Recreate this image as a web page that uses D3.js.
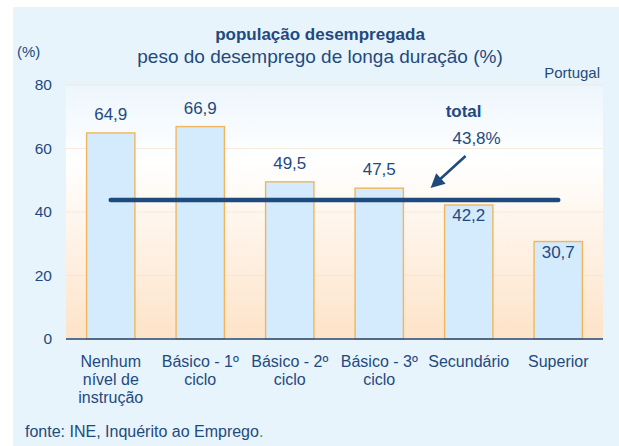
<!DOCTYPE html>
<html>
<head>
<meta charset="utf-8">
<script src="https://cdn.jsdelivr.net/npm/d3@7"></script>
<style>
  body { margin: 0; background: #fff; }
  svg { display: block; font-family: Arial, "Liberation Sans", sans-serif; }
</style>
</head>
<body>
<svg id="chart"></svg>
<script>
'use strict';

const categories = [
  ['Nenhum', 'nível de', 'instrução'],
  ['Básico - 1º', 'ciclo'],
  ['Básico - 2º', 'ciclo'],
  ['Básico - 3º', 'ciclo'],
  ['Secundário'],
  ['Superior']
];
const values = [64.9, 66.9, 49.5, 47.5, 42.2, 30.7];
const total = 43.8;
const yTicks = [0, 20, 40, 60, 80];

const TEXT = '#1f4a7e';
const fmt = v => String(v.toFixed(1)).replace('.', ',');

const W = 619, H = 446;
const margin = { top: 85, right: 16, bottom: 107, left: 66 };
const width = W - margin.left - margin.right;
const height = H - margin.top - margin.bottom;

const svg = d3.select('#chart').attr('width', W).attr('height', H);

const defs = svg.append('defs');
const grad = defs.append('linearGradient')
  .attr('id', 'plotbg').attr('x1', 0).attr('y1', 0).attr('x2', 0).attr('y2', 1);
grad.append('stop').attr('offset', '0%').attr('stop-color', '#edf6fd');
grad.append('stop').attr('offset', '30%').attr('stop-color', '#ffffff');
grad.append('stop').attr('offset', '100%').attr('stop-color', '#fde3c8');

// outer panel
svg.append('rect')
  .attr('x', 13).attr('y', 7)
  .attr('width', W - 13).attr('height', H - 7)
  .attr('fill', '#e8f4fc');

const x = d3.scaleBand()
  .domain(d3.range(values.length))
  .range([0, width])
  .paddingInner(0.46)
  .paddingOuter(0.23);

const y = d3.scaleLinear().domain([0, 80]).range([height, 0]);

const g = svg.append('g')
  .attr('transform', 'translate(' + margin.left + ',' + margin.top + ')');

g.append('rect')
  .attr('width', width).attr('height', height)
  .attr('fill', 'url(#plotbg)');

// gridlines
g.selectAll('.grid')
  .data(yTicks.filter(d => d > 0))
  .enter().append('line')
  .attr('class', 'grid')
  .attr('x1', 0).attr('x2', width)
  .attr('y1', d => y(d)).attr('y2', d => y(d))
  .attr('stroke', '#f3e2d0')
  .attr('stroke-opacity', 0.7)
  .attr('stroke-width', 1);

// y axis labels
const yAxis = d3.axisLeft(y).tickValues(yTicks).tickSize(0).tickPadding(14);
g.append('g')
  .call(yAxis)
  .call(s => s.select('.domain').remove())
  .selectAll('text')
  .attr('fill', TEXT)
  .style('font-size', '15.5px');

// bars
g.selectAll('.bar')
  .data(values)
  .enter().append('rect')
  .attr('class', 'bar')
  .attr('x', (d, i) => x(i))
  .attr('y', d => y(d))
  .attr('width', x.bandwidth())
  .attr('height', d => height - y(d))
  .attr('fill', '#d3ebfc')
  .attr('stroke', '#f1b65c')
  .attr('stroke-width', 1.4);

// x axis line
g.append('line')
  .attr('x1', 0).attr('x2', width)
  .attr('y1', height).attr('y2', height)
  .attr('stroke', '#1f4a7e')
  .attr('stroke-width', 1.6);

// category labels
const xl = g.selectAll('.xlab')
  .data(categories)
  .enter().append('text')
  .attr('class', 'xlab')
  .attr('text-anchor', 'middle')
  .attr('fill', TEXT)
  .style('font-size', '16px')
  .attr('transform', (d, i) => 'translate(' + (x(i) + x.bandwidth() / 2) + ',' + (height + 28) + ')');
xl.selectAll('tspan')
  .data(d => d)
  .enter().append('tspan')
  .attr('x', 0)
  .attr('y', (d, i) => i * 18)
  .text(d => d);

// value labels
g.selectAll('.vlab')
  .data(values)
  .enter().append('text')
  .attr('class', 'vlab')
  .attr('text-anchor', 'middle')
  .attr('fill', TEXT)
  .style('font-size', '17px')
  .attr('x', (d, i) => x(i) + x.bandwidth() / 2)
  .attr('y', d => d > total ? y(d) - 13 : y(d) + 16)
  .text(fmt);

// total line
g.append('line')
  .attr('x1', x(0) + x.bandwidth() / 2)
  .attr('x2', x(values.length - 1) + x.bandwidth() / 2)
  .attr('y1', y(total)).attr('y2', y(total))
  .attr('stroke', '#1f4a7e')
  .attr('stroke-width', 4.5)
  .attr('stroke-linecap', 'round');

// arrow annotation
const ax0 = x(4) + 21, ay0 = y(total) - 44;
const ax1 = x(4) - 14, ay1 = y(total) - 12;
const ang = Math.atan2(ay1 - ay0, ax1 - ax0);
g.append('line')
  .attr('x1', ax0).attr('y1', ay0)
  .attr('x2', ax1 - 8 * Math.cos(ang)).attr('y2', ay1 - 8 * Math.sin(ang))
  .attr('stroke', '#1f4a7e').attr('stroke-width', 2.6);
const head = [
  [ax1, ay1],
  [ax1 - 14 * Math.cos(ang) + 7 * Math.sin(ang), ay1 - 14 * Math.sin(ang) - 7 * Math.cos(ang)],
  [ax1 - 14 * Math.cos(ang) - 7 * Math.sin(ang), ay1 - 14 * Math.sin(ang) + 7 * Math.cos(ang)]
];
g.append('path')
  .attr('d', d3.line()(head) + 'Z')
  .attr('fill', '#1f4a7e');

g.append('text')
  .attr('x', x(4) + 19).attr('y', y(total) - 83)
  .attr('text-anchor', 'middle')
  .attr('fill', TEXT)
  .style('font-size', '17px').style('font-weight', 'bold')
  .text('total');
g.append('text')
  .attr('x', x(4) + 32).attr('y', y(total) - 56)
  .attr('text-anchor', 'middle')
  .attr('fill', TEXT)
  .style('font-size', '17px')
  .text(fmt(total) + '%');

// titles
svg.append('text')
  .attr('x', 320).attr('y', 40)
  .attr('text-anchor', 'middle')
  .attr('fill', TEXT)
  .style('font-size', '17px').style('font-weight', 'bold')
  .text('população desempregada');
svg.append('text')
  .attr('x', 320).attr('y', 63)
  .attr('text-anchor', 'middle')
  .attr('fill', TEXT)
  .style('font-size', '19px')
  .text('peso do desemprego de longa duração (%)');
svg.append('text')
  .attr('x', 17).attr('y', 57)
  .attr('fill', TEXT)
  .style('font-size', '15px')
  .text('(%)');
svg.append('text')
  .attr('x', 600).attr('y', 78)
  .attr('text-anchor', 'end')
  .attr('fill', TEXT)
  .style('font-size', '15px')
  .text('Portugal');

const src = svg.append('text')
  .attr('x', 25).attr('y', 437)
  .attr('fill', TEXT)
  .style('font-size', '16px');
src.append('tspan').text('fonte: INE, Inquérito ao Emprego');
src.append('tspan').attr('fill', '#3a9a3a').text('.');
</script>
</body>
</html>
